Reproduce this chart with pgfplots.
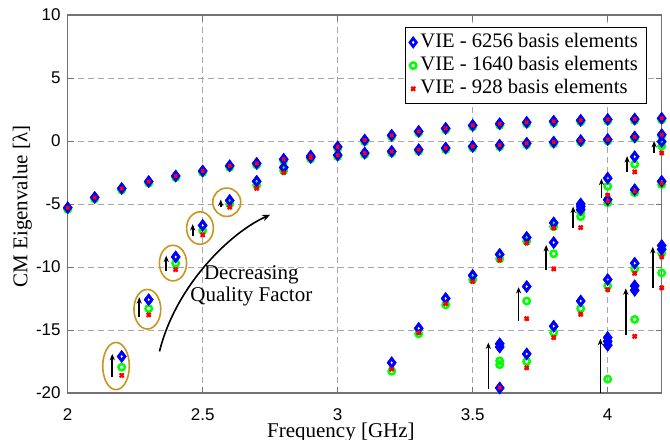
\documentclass[border=0pt]{standalone}
\usepackage{fontspec}
\setmainfont{Liberation Serif}
\setsansfont{Liberation Sans}
\usepackage{pgfplots}
\usepackage{pgfplotstable}
\pgfplotsset{compat=1.18}
\usetikzlibrary{arrows.meta,calc}
\definecolor{gold}{RGB}{200,150,30}

\pgfplotstableread{
x y
2.0 -5.3
2.1 -4.48
2.2 -3.77
2.3 -3.22
2.4 -2.78
2.5 -2.38
2.6 -1.97
2.7 -1.78
2.8 -1.45
2.9 -1.2
3.0 -0.47
3.1 0.07
3.2 0.45
3.3 0.76
3.4 1.0
3.5 1.24
3.6 1.37
3.7 1.48
3.8 1.56
3.9 1.64
4.0 1.71
4.1 1.74
4.2 1.8
2.2 -17.1
2.3 -12.6
2.4 -9.2
2.5 -6.7
2.6 -4.72
2.7 -3.2
2.8 -2.1
2.9 -1.3
3.0 -1.12
3.1 -0.96
3.2 -0.83
3.3 -0.69
3.4 -0.56
3.5 -0.43
3.6 -0.33
3.7 -0.18
3.8 -0.09
3.9 0.03
4.0 0.12
4.1 0.32
4.2 0.5
4.2 -0.05
4.1 -1.25
4.0 -2.95
3.9 -5.0
3.9 -5.2
3.9 -5.45
3.8 -6.5
3.7 -7.65
3.6 -9.0
3.5 -10.67
3.4 -12.5
3.3 -14.87
3.2 -17.6
4.2 -3.2
4.1 -3.87
4.0 -4.66
3.8 -8.06
3.7 -11.55
3.6 -16.1
3.6 -16.35
3.6 -19.6
3.7 -16.9
3.8 -14.7
3.9 -12.7
4.0 -11.0
4.1 -9.7
4.2 -8.3
4.2 -8.6
4.0 -15.6
4.0 -15.9
4.0 -16.2
4.1 -11.5
4.1 -11.85
}\blueA

\pgfplotstableread{
x y
2.0 -5.42
2.1 -4.6
2.2 -3.89
2.3 -3.34
2.4 -2.9
2.5 -2.5
2.6 -2.09
2.7 -1.9
2.8 -1.57
2.9 -1.32
3.0 -0.59
3.1 -0.05
3.2 0.33
3.3 0.64
3.4 0.88
3.5 1.12
3.6 1.25
3.7 1.36
3.8 1.44
3.9 1.52
4.0 1.59
4.1 1.62
4.2 1.68
2.2 -17.95
2.3 -13.3
2.4 -9.7
2.5 -7.1
2.6 -5.0
2.7 -3.5
2.8 -2.35
2.9 -1.42
3.0 -1.24
3.1 -1.08
3.2 -0.95
3.3 -0.81
3.4 -0.68
3.5 -0.55
3.6 -0.45
3.7 -0.3
3.8 -0.21
3.9 -0.09
4.0 0.0
4.1 0.2
4.2 0.38
4.2 -0.4
4.1 -1.85
4.0 -3.6
3.9 -5.65
3.9 -6.0
3.8 -6.8
3.7 -7.95
3.6 -9.35
3.5 -11.0
3.4 -13.0
3.3 -15.3
3.2 -18.27
4.2 -3.45
4.1 -4.1
4.0 -4.9
3.8 -8.95
3.7 -12.7
3.6 -17.45
3.6 -17.75
3.7 -17.5
3.8 -15.2
3.9 -13.3
4.0 -11.5
4.1 -10.15
4.2 -8.9
4.2 -10.47
4.1 -14.16
4.0 -18.9
}\greenB

\pgfplotstableread{
x y
2.0 -5.3
2.1 -4.48
2.2 -3.77
2.3 -3.22
2.4 -2.78
2.5 -2.38
2.6 -1.97
2.7 -1.78
2.8 -1.45
2.9 -1.2
3.0 -0.47
3.1 0.07
3.2 0.45
3.3 0.76
3.4 1.0
3.5 1.24
3.6 1.37
3.7 1.48
3.8 1.56
3.9 1.64
4.0 1.71
4.1 1.74
4.2 1.8
2.2 -18.6
2.3 -13.8
2.4 -10.2
2.5 -7.45
2.6 -5.25
2.7 -3.75
2.8 -2.5
2.9 -1.35
3.0 -1.12
3.1 -0.96
3.2 -0.83
3.3 -0.69
3.4 -0.56
3.5 -0.43
3.6 -0.33
3.7 -0.18
3.8 -0.09
3.9 0.03
4.0 0.12
4.1 0.32
4.2 0.5
4.2 -0.95
4.1 -2.45
4.0 -4.3
3.9 -6.87
3.8 -6.9
3.7 -8.1
3.6 -9.45
3.5 -11.15
3.4 -12.9
3.3 -15.2
3.2 -18.1
4.2 -3.35
4.1 -4.0
4.0 -4.8
3.8 -10.15
3.7 -14.1
3.6 -19.55
3.7 -18.0
3.8 -15.6
3.9 -13.75
4.0 -11.8
4.1 -10.5
4.2 -9.2
4.2 -11.65
4.1 -15.5
}\redC

\begin{document}
\begin{tikzpicture}
\begin{axis}[
  name=ax,
  scale only axis,
  width=297pt, height=189pt,
  xmin=2, xmax=4.2, ymin=-20, ymax=10,
  xtick={2,2.5,3,3.5,4},
  ytick={-20,-15,-10,-5,0,5,10},
  xticklabels={2,2.5,3,3.5,4},
  grid=major,
  grid style={densely dashed, gray!70, line width=0.4pt},
  axis line style={gray!90!black, line width=0.7pt},
  tick align=inside,
  major tick length=3pt,
  tick style={gray!90!black},
  /pgf/number format/assume math mode=true,
  ticklabel style={font=\sffamily\fontsize{8.5}{10}\selectfont},
  xticklabel style={yshift=-4.2pt},
  xlabel={Frequency [GHz]},
  ylabel={CM Eigenvalue [λ]},
  label style={font=\fontsize{10.5}{12}\selectfont},
  xlabel style={at={([yshift=-22.35pt]axis description cs:0.46,0)}, anchor=base},
  ylabel style={at={([xshift=-20.2pt]axis description cs:0,0.493)}, anchor=base, rotate=0},
  legend style={at={(1,1)}, anchor=north east, xshift=-7.2pt, yshift=-6.15pt,
    draw=black, line width=0.5pt, fill=white, inner xsep=2.5pt, inner ysep=1.5pt,
    font=\fontsize{10.3}{12}\selectfont,
    nodes={inner ysep=1.1pt, text height=7.2pt, text depth=2.2pt}},
  legend cell align=left,
  legend image code/.code={\draw[mark repeat=2,mark phase=2,#1] plot coordinates {(0pt,0pt)(3pt,0pt)(6pt,0pt)};},
]
\addplot[only marks, mark=diamond, mark size=2.1pt, blue, line width=1.35pt] table {\blueA};
\addlegendentry{VIE - 6256 basis elements}
\addplot[only marks, mark=o, mark size=1.6pt, green, line width=1.25pt] table {\greenB};
\addlegendentry{VIE - 1640 basis elements}
\addplot[only marks, mark=x, mark size=1.4pt, red, line width=1.1pt] table {\redC};
\addlegendentry{VIE - 928 basis elements}
\addplot[only marks, mark=diamond, mark size=2.1pt, blue, line width=1.35pt, forget plot] table {\blueA};
\addplot[only marks, mark=x, mark size=1.1pt, red, line width=0.9pt, forget plot] table {\redC};

% ellipses
\draw[gold, line width=0.8pt] (axis cs:2.179,-17.86) ellipse [x radius=6.65pt, y radius=11.8pt];
\draw[gold, line width=0.8pt] (axis cs:2.295,-13.35) ellipse [x radius=6.7pt, y radius=9.9pt];
\draw[gold, line width=0.8pt] (axis cs:2.39,-9.69) ellipse [x radius=6.8pt, y radius=8.9pt];
\draw[gold, line width=0.8pt] (axis cs:2.49,-6.91) ellipse [x radius=6.7pt, y radius=8.1pt];
\draw[gold, line width=0.8pt] (axis cs:2.589,-4.86) ellipse [x radius=7pt, y radius=7.1pt];

% arrows
\begin{scope}[-{Stealth[length=3.2pt,width=2.6pt]}, line width=0.8pt, black]
\draw (axis cs:2.165,-18.75) -- (axis cs:2.165,-16.9);
\draw (axis cs:2.265,-14.0) -- (axis cs:2.265,-12.4);
\draw (axis cs:2.365,-10.3) -- (axis cs:2.365,-9.1);
\draw (axis cs:2.463,-7.5) -- (axis cs:2.463,-6.6);
\draw (axis cs:2.567,-5.2) -- (axis cs:2.567,-4.65);
\draw (axis cs:3.558,-19.7) -- (axis cs:3.558,-16.0);
\draw (axis cs:3.670,-14.3) -- (axis cs:3.670,-11.6);
\draw (axis cs:3.772,-10.2) -- (axis cs:3.772,-8.25);
\draw (axis cs:3.872,-6.9) -- (axis cs:3.872,-5.2);
\draw (axis cs:3.977,-4.5) -- (axis cs:3.977,-3.0);
\draw (axis cs:4.072,-2.45) -- (axis cs:4.072,-1.2);
\draw (axis cs:4.172,-0.95) -- (axis cs:4.172,0.0);
\draw (axis cs:3.973,-20) -- (axis cs:3.973,-15.7);
\draw (axis cs:4.067,-15.4) -- (axis cs:4.067,-11.7);
\draw (axis cs:4.167,-11.7) -- (axis cs:4.167,-8.4);
\end{scope}
\draw[-{Stealth[length=4pt,width=3.2pt]}, line width=0.8pt, black]
  (axis cs:2.34,-16.7) .. controls (axis cs:2.40,-11.5) and (axis cs:2.60,-7.3) .. (axis cs:2.75,-5.85);
\node[align=center, font=\fontsize{10.5}{11}\selectfont] at (axis cs:2.68,-11.5) {Decreasing\\Quality Factor};
\end{axis}
\pgfresetboundingbox
\path ($(ax.south west)+(-33.85pt,-23.35pt)$) rectangle ($(ax.north east)+(4.15pt,7.5pt)$);
\end{tikzpicture}
\end{document}
